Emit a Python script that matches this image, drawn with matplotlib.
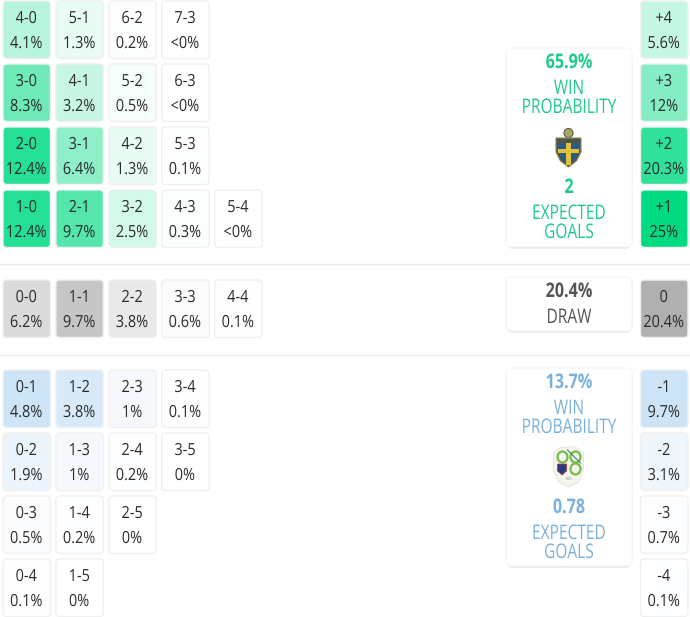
import matplotlib
matplotlib.use('Agg')
import matplotlib.pyplot as plt
from matplotlib.patches import FancyBboxPatch, Polygon, Circle, Ellipse, Rectangle
from matplotlib.patheffects import AbstractPathEffect
from matplotlib.transforms import Affine2D
from matplotlib.colors import to_rgb

plt.rcParams['font.family'] = ['Open Sans', 'DejaVu Sans']

# score grids, one list per row, top to bottom
home_scores = [['4-0', '5-1', '6-2', '7-3'],
               ['3-0', '4-1', '5-2', '6-3'],
               ['2-0', '3-1', '4-2', '5-3'],
               ['1-0', '2-1', '3-2', '4-3', '5-4']]
home_probs = [['4.1%', '1.3%', '0.2%', '<0%'],
              ['8.3%', '3.2%', '0.5%', '<0%'],
              ['12.4%', '6.4%', '1.3%', '0.1%'],
              ['12.4%', '9.7%', '2.5%', '0.3%', '<0%']]
draw_scores = [['0-0', '1-1', '2-2', '3-3', '4-4']]
draw_probs = [['6.2%', '9.7%', '3.8%', '0.6%', '0.1%']]
away_scores = [['0-1', '1-2', '2-3', '3-4'],
               ['0-2', '1-3', '2-4', '3-5'],
               ['0-3', '1-4', '2-5'],
               ['0-4', '1-5']]
away_probs = [['4.8%', '3.8%', '1%', '0.1%'],
              ['1.9%', '1%', '0.2%', '0%'],
              ['0.5%', '0.2%', '0%'],
              ['0.1%', '0%']]

# goal difference column
home_diff = ['+4', '+3', '+2', '+1']
home_diff_probs = ['5.6%', '12%', '20.3%', '25%']
draw_diff = ['0']
draw_diff_probs = ['20.4%']
away_diff = ['-1', '-2', '-3', '-4']
away_diff_probs = ['9.7%', '3.1%', '0.7%', '0.1%']

GREEN = '#00da82'
GREY = '#8f8f8f'
BLUE = '#aed4f0'
TEXT = '#2b2b2b'

fig = plt.figure(figsize=(6.9, 6.17), dpi=100)
ax = fig.add_axes([0, 0, 1, 1])
ax.set_xlim(0, 690)
ax.set_ylim(617, 0)
ax.axis('off')


class Squeeze(AbstractPathEffect):
    # the original text is a squashed webfont, narrow the glyphs around the text centre
    def __init__(self, cx, sx):
        super().__init__()
        self.cx = cx
        self.sx = sx

    def draw_path(self, renderer, gc, tpath, affine, rgbFace=None):
        squash = Affine2D().translate(-self.cx, 0).scale(self.sx, 1).translate(self.cx, 0)
        renderer.draw_path(gc, tpath, affine + squash, rgbFace)


def label(x, y, s, size, color, sx, weight='normal'):
    ax.text(x, y, s, ha='center', va='center', fontsize=size, color=color, fontweight=weight,
            path_effects=[Squeeze(x, sx)])


def val(p):
    return float(p.replace('<', '').replace('%', ''))


def tint(color, a):
    a = min(a, 1)
    return tuple(1 - a * (1 - c) for c in to_rgb(color))


def tile(x, y, w, h, score, prob, color, scale):
    ax.add_patch(FancyBboxPatch((x + 3, y + 3), w - 6, h - 6, boxstyle='round,pad=3,rounding_size=4',
                                fc=tint(color, val(prob) / scale), ec='#f0f0f0', lw=1))
    label(x + w / 2 - 0.5, y + 18, score, 12, TEXT, 0.87)
    label(x + w / 2 - 0.5, y + 43, prob, 12, TEXT, 0.87)


def grid(scores, probs, top, color, scale):
    for r, row in enumerate(scores):
        for c, s in enumerate(row):
            tile(3 + c * 52.9, top + r * 63, 47.5, 57.5, s, probs[r][c], color, scale)


def column(diffs, probs, top, color, scale):
    for r, d in enumerate(diffs):
        tile(640.5, top + r * 63, 47.5, 57.5, d, probs[r], color, scale)


def card(y0, y1):
    for i, a in enumerate([0.03, 0.05, 0.07]):
        ax.add_patch(FancyBboxPatch((505 + i, y0 + 1 + i), 128 - 2 * i, y1 - y0 - 1, boxstyle='round,pad=0,rounding_size=6',
                                    fc='black', ec='none', alpha=a))
    ax.add_patch(FancyBboxPatch((506, y0), 126, y1 - y0, boxstyle='round,pad=0,rounding_size=5',
                                fc='white', ec='#f5f5f5', lw=0.8))


def team_card(y0, y1, prob, xg, color):
    card(y0, y1)
    cx = 569
    label(cx, y0 + 15, prob, 14.5, color, 0.8, 'bold')
    label(cx, y0 + 41, 'WIN', 14.5, color, 0.77)
    label(cx, y0 + 60, 'PROBABILITY', 14.5, color, 0.77)
    label(cx, y0 + 140, xg, 14.5, color, 0.8, 'bold')
    label(cx, y0 + 166, 'EXPECTED', 14.5, color, 0.77)
    label(cx, y0 + 185, 'GOALS', 14.5, color, 0.77)


def sweden_badge(cx, cy):
    # little shield, rough shape only
    ax.add_patch(Circle((cx, cy - 14), 4.5, fc='#a8a868', ec='#56603f', lw=0.8))
    ax.add_patch(Polygon([(cx - 12.5, cy - 9), (cx + 12.5, cy - 9), (cx + 12.5, cy + 5), (cx + 8, cy + 14),
                          (cx, cy + 20), (cx - 8, cy + 14), (cx - 12.5, cy + 5)], fc='#4c5640', ec='#8a8a5c', lw=0.8))
    ax.add_patch(Polygon([(cx - 10.5, cy - 4), (cx + 10.5, cy - 4), (cx + 10.5, cy + 5), (cx + 6, cy + 13),
                          (cx, cy + 18), (cx - 6, cy + 13), (cx - 10.5, cy + 5)], fc='#2b5a86', ec='none'))
    ax.add_patch(Rectangle((cx - 2.5, cy - 4), 5, 22, fc='#e2c23a', ec='none'))
    ax.add_patch(Rectangle((cx - 10.5, cy + 2), 21, 4, fc='#e2c23a', ec='none'))


def slovenia_badge(cx, cy):
    ax.add_patch(Polygon([(cx - 15, cy - 14), (cx - 7, cy - 20), (cx + 7, cy - 20), (cx + 15, cy - 14), (cx + 15, cy + 3),
                          (cx + 10, cy + 15), (cx, cy + 20), (cx - 10, cy + 15), (cx - 15, cy + 3)],
                         fc='#f4f6ee', ec='#dfe3d4', lw=0.6))
    for dx, dy in [(-6, -10), (7, -10), (7, 2)]:
        ax.add_patch(Ellipse((cx + dx, cy + dy), 10, 11, fc='none', ec='#76bb4a', lw=1.6))
    ax.plot([cx - 1, cx + 12], [cy - 17, cy - 4], color='#4f7f6a', lw=0.8)
    ax.add_patch(Polygon([(cx - 11, cy - 3), (cx - 2, cy - 3), (cx - 2, cy + 4), (cx - 6.5, cy + 8), (cx - 11, cy + 4)],
                         fc='#2a3c80', ec='#c03040', lw=0.5))
    ax.text(cx, cy + 12, 'NZS', ha='center', va='center', fontsize=2.5, color='#888888')


grid(home_scores, home_probs, 1, GREEN, 14.5)
grid(draw_scores, draw_probs, 280, GREY, 19)
grid(away_scores, away_probs, 370, BLUE, 7.8)

column(home_diff, home_diff_probs, 1, GREEN, 25)
column(draw_diff, draw_diff_probs, 280, GREY, 29)
column(away_diff, away_diff_probs, 370, BLUE, 15.6)

ax.axhline(263.5, color='#ececec', lw=1)
ax.axhline(354.5, color='#ececec', lw=1)

team_card(48, 247, '65.9%', '2', '#1fc98a')
card(277, 331)
label(569, 292, '20.4%', 14.5, '#555555', 0.8, 'bold')
label(569, 318, 'DRAW', 14.5, '#555555', 0.77)
team_card(368, 566, '13.7%', '0.78', '#7ab1dc')

sweden_badge(568.5, 147)
slovenia_badge(568.5, 467)

plt.savefig('out.png', dpi=100)
